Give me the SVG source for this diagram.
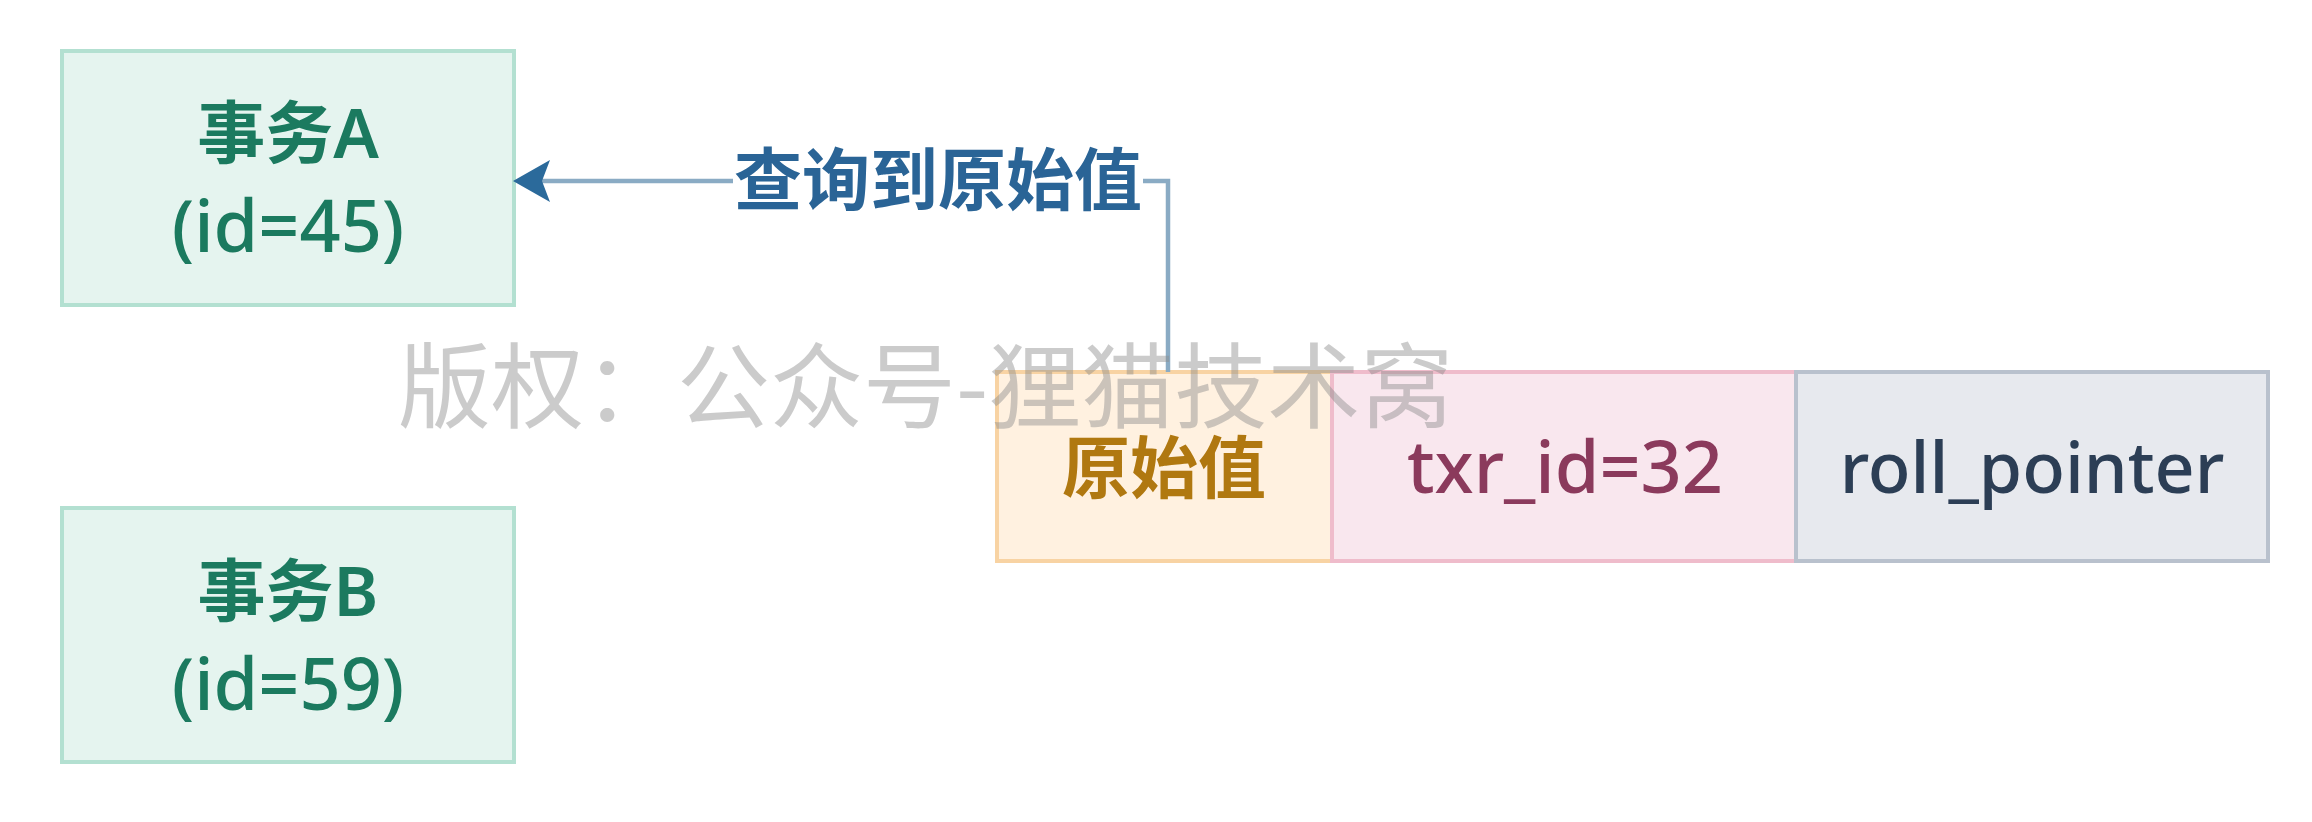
<svg xmlns="http://www.w3.org/2000/svg" width="2312" height="822" viewBox="0 0 2312 822">
  <style>
    .t { font-family: "Noto Sans", "Noto Sans CJK SC", sans-serif; font-weight: 600; text-anchor: middle; }
    .m { font-weight: 500; }
    .green rect { fill: #e5f4ef; stroke: #b3e0d1; stroke-width: 4; }
    .green text { fill: #1b7a5f; }
    .conn { fill: none; stroke: #8aabc4; stroke-width: 4.5; }
    .wm { font-family: "Noto Sans CJK SC", sans-serif; font-weight: 400; font-size: 93px; fill: #8c8c8c; fill-opacity: 0.45; }
  </style>
  <defs>
    <marker id="arrow" markerUnits="userSpaceOnUse" markerWidth="40" markerHeight="42" refX="37" refY="21" orient="auto" viewBox="0 0 40 42">
      <path d="M37,21 L0,0 L8,21 L0,42 Z" fill="#2b6a9b"/>
    </marker>
  </defs>
  <rect width="2312" height="822" fill="#ffffff"/>

  <g id="txA" class="green">
    <rect x="62" y="51" width="452" height="254"/>
    <text class="t" x="288" y="158" font-size="68">事务A</text>
    <text class="t m" x="288" y="252" font-size="72">(id=45)</text>
  </g>

  <g id="txB" class="green">
    <rect x="62" y="508" width="452" height="254"/>
    <text class="t" x="288" y="616" font-size="68">事务B</text>
    <text class="t m" x="288" y="710" font-size="72">(id=59)</text>
  </g>

  <g id="val">
    <rect x="997" y="372" width="335" height="189" fill="#fff1e0" stroke="#f8d3a3" stroke-width="4"/>
    <text class="t" x="1164" y="493" font-size="68" fill="#b07810">原始值</text>
  </g>
  <g id="txr">
    <rect x="1332" y="372" width="464" height="189" fill="#f9e7ee" stroke="#efbccb" stroke-width="4"/>
    <text class="t m" x="1565" y="493" font-size="72" fill="#8b3a5c">txr_id=32</text>
  </g>
  <g id="roll">
    <rect x="1796" y="372" width="472" height="189" fill="#e7e9ee" stroke="#b9c1cd" stroke-width="4"/>
    <text class="t m" x="2032" y="493" font-size="70" fill="#2c3e55">roll_pointer</text>
  </g>

  <g id="connectors">
    <path class="conn" d="M1168,372 L1168,181 L540,181"/>
    <path d="M513,181 L550,160 L542,181 L550,202 Z" fill="#2b6a9b"/>
    <rect x="733" y="150" width="410" height="62" fill="#ffffff"/>
    <text class="t" x="938" y="205" font-size="68" fill="#2a6496">查询到原始值</text>
  </g>

  <text class="wm" x="398" y="421">版权：公众号-狸猫技术窝</text>
</svg>
